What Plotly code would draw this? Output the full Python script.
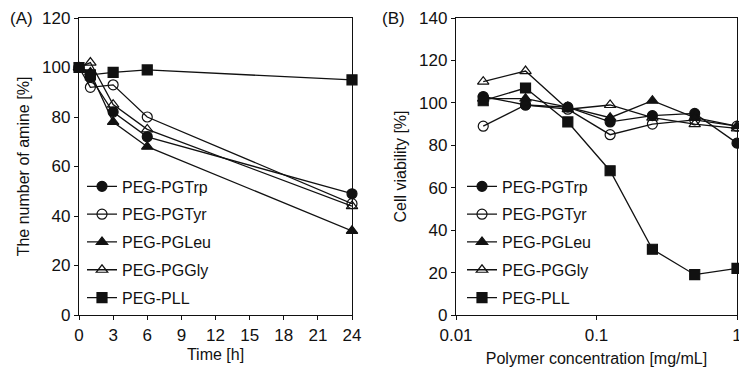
import plotly.graph_objects as go

# ---------------- data ----------------
series_names = ["PEG-PGTrp", "PEG-PGTyr", "PEG-PGLeu", "PEG-PGGly", "PEG-PLL"]
series_symbols = ["circle", "circle-open", "triangle-up", "triangle-up-open", "square"]

# (A) amine content vs time
time_h = [0, 1, 3, 6, 24]
amine_trp = [100, 96, 82, 72, 49]
amine_tyr = [100, 92, 93, 80, 45]
amine_leu = [100, 98, 78, 68, 34]
amine_gly = [100, 102, 85, 75, 44]
amine_pll = [100, 97, 98, 99, 95]

# (B) cell viability vs polymer concentration
conc = [0.015625, 0.03125, 0.0625, 0.125, 0.25, 0.5, 1]
via_trp = [103, 99, 98, 91, 94, 95, 81]
via_tyr = [89, 99, 97, 85, 90, 92, 89]
via_leu = [102, 102, 98, 93, 101, 93, 89]
via_gly = [110, 115, 97, 99, 93, 90, 88]
via_pll = [101, 107, 91, 68, 31, 19, 22]

x_ticks_a = [0, 3, 6, 9, 12, 15, 18, 21, 24]
x_ticks_b = [0.01, 0.1, 1]
x_ticklabels_b = ["0.01", "0.1", "1"]

amine_series = [amine_trp, amine_tyr, amine_leu, amine_gly, amine_pll]
via_series = [via_trp, via_tyr, via_leu, via_gly, via_pll]

# ---------------- figure ----------------
W, H = 739, 367
FONT = "Liberation Sans, Arial, sans-serif"
INK = "#111111"

fig = go.Figure()

for i, (name, sym, ys) in enumerate(zip(series_names, series_symbols, amine_series)):
    fig.add_trace(go.Scatter(
        x=time_h, y=ys, name=name, mode="lines+markers",
        line=dict(color=INK, width=1.3),
        marker=dict(symbol=sym, size=10, color=INK, line=dict(color=INK, width=1.2)),
        xaxis="x", yaxis="y", legend="legend", legendgroup="a%d" % i,
        cliponaxis=False,
    ))

for i, (name, sym, ys) in enumerate(zip(series_names, series_symbols, via_series)):
    fig.add_trace(go.Scatter(
        x=conc, y=ys, name=name, mode="lines+markers",
        line=dict(color=INK, width=1.3),
        marker=dict(symbol=sym, size=10, color=INK, line=dict(color=INK, width=1.2)),
        xaxis="x2", yaxis="y2", legend="legend2", legendgroup="b%d" % i,
        cliponaxis=False,
    ))

axis_common = dict(
    showline=True, linecolor=INK, linewidth=1.3, mirror=True,
    ticks="outside", ticklen=4, tickwidth=1.2, tickcolor=INK,
    showgrid=False, zeroline=False, automargin=False,
    ticklabeloverflow="allow",
    tickfont=dict(family=FONT, size=17, color=INK),
)
title_font = dict(family=FONT, size=16, color=INK)

legend_common = dict(
    font=dict(family=FONT, size=16, color=INK),
    bgcolor="rgba(0,0,0,0)", borderwidth=0,
    traceorder="grouped", tracegroupgap=4,
    xanchor="left", yanchor="top",
)

fig.update_layout(
    width=W, height=H,
    margin=dict(l=0, r=0, t=18, b=52),
    paper_bgcolor="white", plot_bgcolor="white",
    font=dict(family=FONT, color=INK),
    xaxis=dict(domain=[79 / W, 352 / W], range=[0, 24], tickvals=x_ticks_a,
               title=dict(text="Time [h]", font=title_font, standoff=5), **axis_common),
    yaxis=dict(range=[0, 120], dtick=20,
               title=dict(text="The number of amine [%]", font=title_font, standoff=8), **axis_common),
    xaxis2=dict(domain=[456 / W, 737 / W], type="log", range=[-2, 0],
                tickvals=x_ticks_b, ticktext=x_ticklabels_b,
                title=dict(text="Polymer concentration [mg/mL]", font=title_font, standoff=11),
                anchor="y2", **axis_common),
    yaxis2=dict(range=[0, 140], dtick=20, anchor="x2",
                title=dict(text="Cell viability [%]", font=title_font, standoff=8), **axis_common),
    legend=dict(x=82 / W, y=0.49, **legend_common),
    legend2=dict(x=462 / W, y=0.49, **legend_common),
    annotations=[
        dict(text="(A)", xref="paper", yref="paper", x=35 / W, y=1, xanchor="right",
             yanchor="middle", showarrow=False, font=dict(family=FONT, size=17, color=INK)),
        dict(text="(B)", xref="paper", yref="paper", x=407 / W, y=1, xanchor="right",
             yanchor="middle", showarrow=False, font=dict(family=FONT, size=17, color=INK)),
    ],
)

fig.write_html(
    "out.html",
    config={"displayModeBar": False},
    post_script="document.body.style.margin='0';document.body.style.overflow='hidden';",
)
